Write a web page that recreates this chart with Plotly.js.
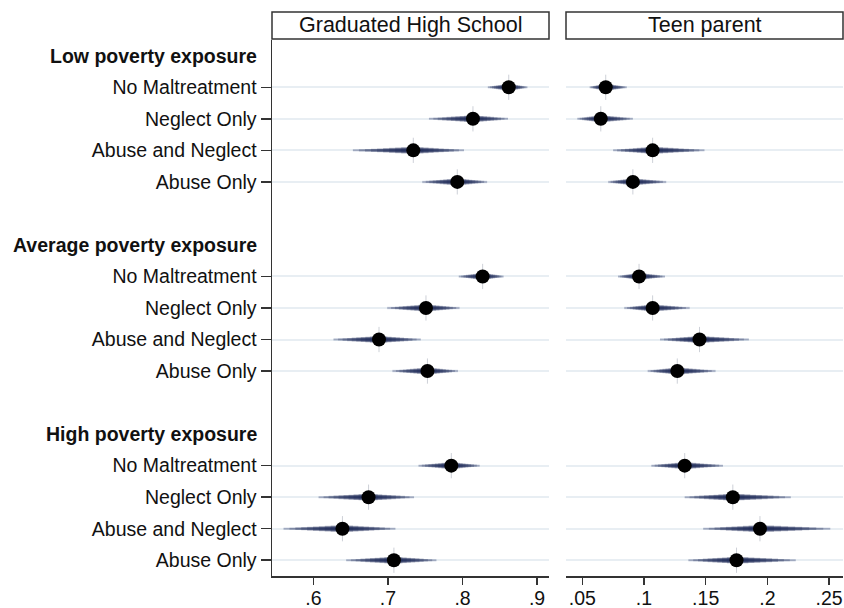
<!DOCTYPE html>
<html>
<head>
<meta charset="utf-8">
<script src="https://cdn.plot.ly/plotly-3.0.1.min.js"></script>
<style>html,body{margin:0;padding:0;background:#fff;}#chart{width:844px;height:608px;}</style>
</head>
<body>
<div id="chart"></div>
<script>
// ---- data ----
const groups = ["Low poverty exposure", "Average poverty exposure", "High poverty exposure"];
const categories = ["No Maltreatment", "Neglect Only", "Abuse and Neglect", "Abuse Only"];
const panels = ["Graduated High School", "Teen parent"];

// order: Low (4), Average (4), High (4); within each: categories order
const gradEst = [0.862, 0.814, 0.734, 0.793,  0.827, 0.751, 0.688, 0.753,  0.785, 0.674, 0.639, 0.708];
const gradLo  = [0.834, 0.755, 0.653, 0.746,  0.795, 0.699, 0.627, 0.706,  0.741, 0.607, 0.560, 0.644];
const gradHi  = [0.887, 0.861, 0.802, 0.833,  0.855, 0.796, 0.744, 0.794,  0.823, 0.735, 0.710, 0.765];

const teenEst = [0.069, 0.065, 0.107, 0.091,  0.096, 0.107, 0.145, 0.127,  0.133, 0.172, 0.194, 0.175];
const teenLo  = [0.056, 0.046, 0.075, 0.071,  0.079, 0.084, 0.113, 0.103,  0.106, 0.133, 0.148, 0.136];
const teenHi  = [0.086, 0.091, 0.149, 0.118,  0.117, 0.137, 0.185, 0.158,  0.164, 0.219, 0.251, 0.223];

const gradTicks = [0.6, 0.7, 0.8, 0.9];
const gradTickText = [".6", ".7", ".8", ".9"];
const teenTicks = [0.05, 0.1, 0.15, 0.2, 0.25];
const teenTickText = [".05", ".1", ".15", ".2", ".25"];

// ---- layout helpers ----
const FONT = "Liberation Sans, Arial, sans-serif";
const W = 844;
const rowPos = [];   // y position for each item row
const rowLabels = [];
const headerPos = [];
groups.forEach((g, gi) => {
  headerPos.push(gi * 6);
  categories.forEach((c, ci) => { rowPos.push(gi * 6 + ci + 1); rowLabels.push(c); });
});

const NAVY = [26, 40, 84];
const traces = [];
function addPanel(est, lo, hi, xa, ya) {
  // faint full-span base
  const bx = [], by = [];
  for (let i = 0; i < est.length; i++) { bx.push(lo[i], hi[i], null); by.push(rowPos[i], rowPos[i], null); }
  traces.push({
    x: bx, y: by, xaxis: xa, yaxis: ya, type: "scatter", mode: "lines",
    line: {color: "rgba(190,200,218,0.6)", width: 2.5}, hoverinfo: "skip", showlegend: false
  });
  const N = 10;
  for (let k = N; k >= 1; k--) {
    const f = k / N;
    const xs = [], ys = [];
    for (let i = 0; i < est.length; i++) {
      xs.push(est[i] - f * (est[i] - lo[i]), est[i] + f * (hi[i] - est[i]), null);
      ys.push(rowPos[i], rowPos[i], null);
    }
    traces.push({
      x: xs, y: ys, xaxis: xa, yaxis: ya, type: "scatter", mode: "lines",
      line: {color: `rgba(${NAVY[0]},${NAVY[1]},${NAVY[2]},0.26)`, width: 1.5 + (1 - f) * 6},
      hoverinfo: "skip", showlegend: false
    });
  }
  traces.push({
    x: est, y: rowPos, xaxis: xa, yaxis: ya, type: "scatter", mode: "markers",
    marker: {color: "#000", size: 14, line: {width: 0}},
    error_y: {type: "constant", value: 0.4, thickness: 1, width: 0, color: "rgba(60,70,100,0.25)"},
    showlegend: false
  });
}
addPanel(gradEst, gradLo, gradHi, "x", "y");
addPanel(teenEst, teenLo, teenHi, "x2", "y2");

const yCommon = {
  range: [16.5, -0.5], tickmode: "array", tickvals: rowPos,
  showgrid: true, gridcolor: "rgb(232,238,243)", gridwidth: 2, zeroline: false
};
const xCommon = {
  showline: true, linecolor: "#333", linewidth: 1.5, ticks: "outside", ticklen: 7,
  tickcolor: "#333", tickwidth: 1.5, showgrid: false, zeroline: false,
  tickfont: {family: FONT, size: 19.5, color: "#111"}, tickmode: "array",
  ticklabelstandoff: -3
};

const d1 = [272 / W, 549 / W];
const d2 = [566 / W, 843 / W];

const annotations = [];
groups.forEach((g, gi) => {
  annotations.push({
    text: "<b>" + g + "</b>", xref: "paper", yref: "y", x: 259 / W, y: headerPos[gi],
    xanchor: "right", yanchor: "middle", showarrow: false,
    font: {family: FONT, size: 19.5, color: "#111"}
  });
});
[d1, d2].forEach((d, i) => {
  annotations.push({
    text: panels[i], xref: "paper", yref: "paper", x: (d[0] + d[1]) / 2, y: (576 - 25.5) / 536,
    xanchor: "center", yanchor: "middle", showarrow: false,
    font: {family: FONT, size: 21.5, color: "#111"}
  });
});

const shapes = [d1, d2].map(d => ({
  type: "rect", xref: "paper", yref: "paper", x0: d[0], x1: d[1],
  y0: (576 - 39) / 536, y1: (576 - 12) / 536,
  line: {color: "#333", width: 1.5}, fillcolor: "rgba(0,0,0,0)"
}));

const layout = {
  width: 844, height: 608,
  margin: {l: 0, r: 0, t: 40, b: 32},
  paper_bgcolor: "#fff", plot_bgcolor: "#fff",
  showlegend: false,
  xaxis: Object.assign({}, xCommon, {domain: d1, range: [0.5445, 0.916], tickvals: gradTicks, ticktext: gradTickText, anchor: "y"}),
  xaxis2: Object.assign({}, xCommon, {domain: d2, range: [0.0368, 0.2613], tickvals: teenTicks, ticktext: teenTickText, anchor: "y2"}),
  yaxis: Object.assign({}, yCommon, {
    anchor: "x", ticktext: rowLabels, ticks: "outside", ticklen: 10, tickcolor: "#333", tickwidth: 1.5,
    showline: true, linecolor: "#333", linewidth: 1.5,
    tickfont: {family: FONT, size: 19.5, color: "#111"}
  }),
  yaxis2: Object.assign({}, yCommon, {anchor: "x2", showticklabels: false, ticks: "", showline: false}),
  annotations: annotations,
  shapes: shapes
};

Plotly.newPlot("chart", traces, layout, {displayModeBar: false, staticPlot: true});
</script>
</body>
</html>
